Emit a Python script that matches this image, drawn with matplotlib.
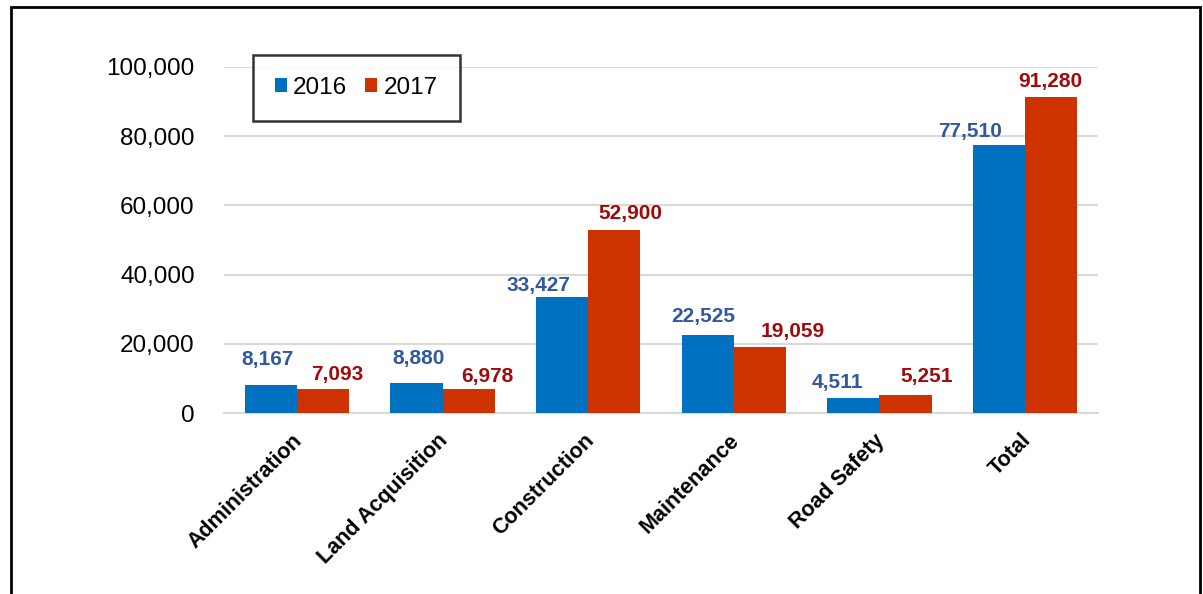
import matplotlib
matplotlib.use("Agg")
import matplotlib.pyplot as plt
import matplotlib.transforms as mtransforms
from matplotlib.patches import Rectangle
from matplotlib.ticker import FuncFormatter
import numpy as np

plt.rcParams['font.family'] = ['Liberation Sans', 'DejaVu Sans']

# Data
categories = ["Administration", "Land Acquisition", "Construction",
              "Maintenance", "Road Safety", "Total"]
years = ["2016", "2017"]
values_2016 = [8167, 8880, 33427, 22525, 4511, 77510]
values_2017 = [7093, 6978, 52900, 19059, 5251, 91280]

# label offsets (pixels) relative to bar top centre, as placed in the original
offsets_2016 = [(-3, 25), (2, 24), (-24, 12), (-5, 19), (-16, 15), (-29, 13)]
offsets_2017 = [(14, 14), (19, 13), (16, 16), (33, 16), (21, 19), (-1, 15)]

BLUE = "#0070C0"
RED = "#CC3300"
BLUE_TXT = "#3358A0"
RED_TXT = "#A00A0A"

fig = plt.figure(figsize=(12.03, 5.94), dpi=100)
ax = fig.add_axes([224 / 1203, 1 - 413.3 / 594, 874 / 1203, 346.6 / 594])

x = np.arange(len(categories))
w = 0.357
bars1 = ax.bar(x - w / 2, values_2016, w, color=BLUE, label=years[0], zorder=3)
bars2 = ax.bar(x + w / 2, values_2017, w, color=RED, label=years[1], zorder=3)

for bars, vals, offs, col in [(bars1, values_2016, offsets_2016, BLUE_TXT),
                              (bars2, values_2017, offsets_2017, RED_TXT)]:
    for b, v, (dx, dy) in zip(bars, vals, offs):
        ax.annotate(f"{v:,}", (b.get_x() + b.get_width() / 2, v),
                    xytext=(dx, dy), textcoords="offset pixels",
                    ha="center", va="center", fontsize=15, fontweight="bold",
                    color=col, zorder=4)

ax.set_xlim(-0.5, len(categories) - 0.5)
ax.set_ylim(0, 100000)
ax.set_yticks(np.arange(0, 100001, 20000))
ax.yaxis.set_major_formatter(FuncFormatter(lambda v, p: f"{int(v):,}"))
ax.tick_params(axis='y', length=0, labelsize=17.5, pad=21)
ax.tick_params(axis='x', length=0, pad=12)
ax.grid(axis='y', color="#D9D9D9", linewidth=1.5, zorder=0)
for s in ["top", "right", "left"]:
    ax.spines[s].set_visible(False)
ax.spines["bottom"].set_color("#D9D9D9")
ax.spines["bottom"].set_linewidth(1.5)

ax.set_xticks(x)
ax.set_xticklabels(categories, rotation=45, ha="right", va="top",
                   rotation_mode="anchor", fontsize=15.5, fontweight="bold")
shift = mtransforms.ScaledTranslation(-5 / 100, 0, fig.dpi_scale_trans)
for lbl in ax.get_xticklabels():
    lbl.set_transform(lbl.get_transform() + shift)

leg = ax.legend(loc="upper left", bbox_to_anchor=(0.033, 1.034), ncol=2,
                fontsize=17.5, frameon=True, fancybox=False,
                handlelength=0.5, handleheight=0.5, handletextpad=0.25,
                columnspacing=0.75, borderpad=0.9, borderaxespad=0)
leg.get_frame().set_edgecolor("black")
leg.get_frame().set_linewidth(1.8)

# outer frame of the original picture
fig.patches.append(Rectangle((10.5 / 1203, -0.1), (1200 - 10.5) / 1203, 1.1 - 7.5 / 594,
                             transform=fig.transFigure, fill=False,
                             edgecolor="black", linewidth=2))

fig.savefig("out.png", dpi=100)
